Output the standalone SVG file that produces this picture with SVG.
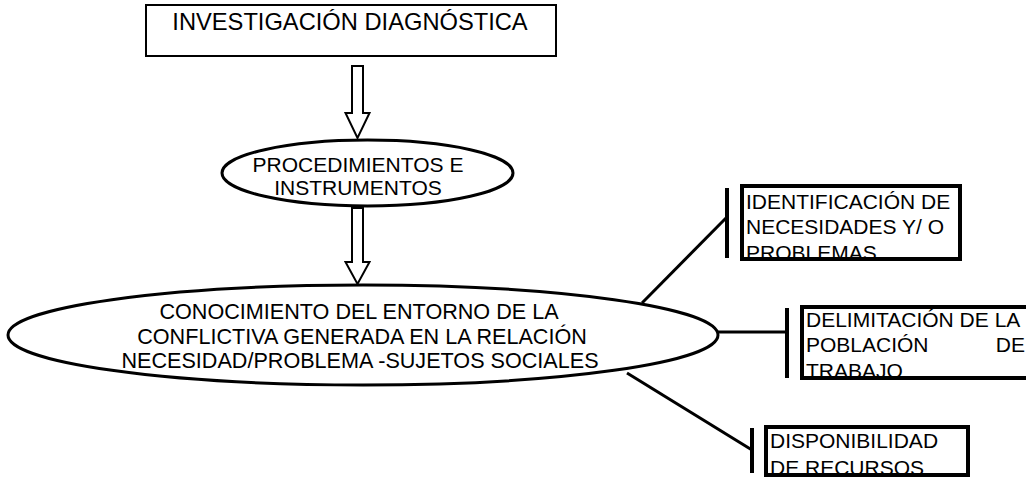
<svg xmlns="http://www.w3.org/2000/svg" width="1026" height="477" viewBox="0 0 1026 477">
<style>
text{font-family:"Liberation Sans",Arial,sans-serif;fill:#000;}
.t{font-size:21px;}
.tb{font-size:21.6px;}
.c{text-anchor:middle;}
.box{fill:#fff;stroke:#000;stroke-width:2;}
.sbox{fill:#fff;stroke:#000;stroke-width:4;}
.ell{fill:#fff;stroke:#000;stroke-width:3;}
.arr{fill:#fff;stroke:#000;stroke-width:2;stroke-linejoin:miter;}
.ln{stroke:#000;stroke-width:3;fill:none;}
.bar{stroke:#000;stroke-width:4;fill:none;}
</style>
<defs>
<clipPath id="cpIdent"><rect x="744" y="188" width="214" height="69"/></clipPath>
<clipPath id="cpDelim"><rect x="804" y="309" width="230" height="67"/></clipPath>
<clipPath id="cpDisp"><rect x="768" y="429" width="198" height="44"/></clipPath>
</defs>
<rect width="1026" height="477" fill="#fff"/>

<g id="connectors">
<polygon class="arr" points="352,66 363,66 363,113 369.5,113 357.5,138 345.5,113 352,113"/>
<polygon class="arr" points="352,208 363,208 363,262 369.5,262 357.5,284 345.5,262 352,262"/>
<line class="ln" x1="642" y1="303" x2="727" y2="217"/>
<line class="ln" x1="718" y1="332" x2="787" y2="332"/>
<line class="ln" x1="627" y1="373" x2="752" y2="450"/>
<line class="bar" x1="727" y1="188" x2="727" y2="258"/>
<line class="bar" x1="787" y1="308" x2="787" y2="378"/>
<line class="bar" x1="752" y1="428" x2="752" y2="473"/>
</g>

<g id="node-investigacion">
<rect class="box" x="146" y="5" width="410" height="51"/>
<text x="350" y="30" class="c" style="font-size:23.7px">INVESTIGACIÓN DIAGNÓSTICA</text>
</g>

<g id="node-procedimientos">
<ellipse class="ell" cx="367.5" cy="173" rx="145.5" ry="33"/>
<text class="t c" x="358" y="172">PROCEDIMIENTOS E</text>
<text class="t c" x="358" y="195">INSTRUMENTOS</text>
</g>

<g id="node-conocimiento">
<ellipse class="ell" cx="363" cy="335" rx="355" ry="50"/>
<text class="tb c" x="359" y="319">CONOCIMIENTO DEL ENTORNO DE LA</text>
<text class="tb c" x="362" y="344">CONFLICTIVA GENERADA EN LA RELACIÓN</text>
<text class="tb c" x="360" y="368">NECESIDAD/PROBLEMA -SUJETOS SOCIALES</text>
</g>

<g id="node-identificacion">
<rect class="sbox" x="742" y="186" width="218" height="73"/>
<g clip-path="url(#cpIdent)">
<text class="t" x="746" y="209">IDENTIFICACIÓN DE</text>
<text class="t" x="746" y="234">NECESIDADES Y/ O</text>
<text class="t" x="746" y="260">PROBLEMAS</text>
</g>
</g>

<g id="node-delimitacion">
<rect class="sbox" x="802" y="307" width="240" height="71"/>
<g clip-path="url(#cpDelim)">
<text class="t" x="806" y="327">DELIMITACIÓN DE LA</text>
<text class="t" x="806" y="352">POBLACIÓN</text>
<text class="t" x="1025" y="352" style="text-anchor:end">DE</text>
<text class="t" x="806" y="378">TRABAJO</text>
</g>
</g>

<g id="node-disponibilidad">
<rect class="sbox" x="766" y="427" width="202" height="48"/>
<g clip-path="url(#cpDisp)">
<text class="t" x="770" y="448">DISPONIBILIDAD</text>
<text class="t" x="770" y="475">DE RECURSOS</text>
</g>
</g>
</svg>
